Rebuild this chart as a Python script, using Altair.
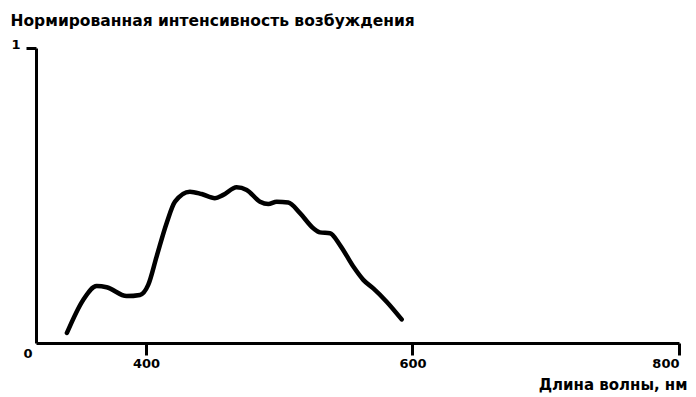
import altair as alt
import pandas as pd

# Data
wavelength = [340.7, 352.9, 363.0, 370.5, 385.5, 395.5, 401.7, 408.0, 415.5, 421.8,
              433.0, 441.8, 451.8, 458.0, 468.0, 475.6, 485.6, 491.8, 498.1, 506.8,
              515.6, 525.6, 530.6, 538.1, 545.6, 555.6, 563.1, 570.6, 580.6, 591.9]
intensity = [0.034, 0.146, 0.193, 0.189, 0.159, 0.163, 0.197, 0.293, 0.406, 0.479,
             0.513, 0.505, 0.491, 0.502, 0.528, 0.519, 0.479, 0.471, 0.479, 0.476,
             0.440, 0.389, 0.375, 0.372, 0.332, 0.259, 0.214, 0.185, 0.140, 0.080]
x_ticks = [400, 600, 800]
y_ticks = [1]
x_min = 317.5
x_max = 800
y_title = "Нормированная интенсивность возбуждения"
x_title = "Длина волны, нм"
origin_label = "0"

FONT = "DejaVu Sans"

df = pd.DataFrame({"wl": wavelength, "val": intensity})
origin_df = pd.DataFrame({"wl": [x_min], "val": [0], "t": [origin_label]})

x_scale = alt.Scale(domain=[x_min, x_max], nice=False, zero=False)
y_scale = alt.Scale(domain=[0, 1], nice=False)

line = alt.Chart(df).mark_line(
    color="black", strokeWidth=4.5, strokeCap="round", strokeJoin="round",
    interpolate="monotone"
).encode(
    x=alt.X("wl:Q", scale=x_scale, axis=alt.Axis(
        values=x_ticks, title=x_title, grid=False, format="d",
        domainColor="black", domainWidth=3,
        tickColor="black", tickWidth=3, tickSize=12,
        labelFont=FONT, labelFontSize=13, labelFontWeight="bold", labelColor="black",
        labelPadding=2,
        titleFont=FONT, titleFontSize=15, titleFontWeight="bold", titleColor="black",
        titleAnchor="end", titleAlign="right", titleBaseline="alphabetic",
        titleX=651, titleY=46,
    )),
    y=alt.Y("val:Q", scale=y_scale, axis=alt.Axis(
        values=y_ticks, title=y_title, grid=False, format="d",
        domainColor="black", domainWidth=3,
        tickColor="black", tickWidth=3, tickSize=10,
        labelFont=FONT, labelFontSize=13, labelFontWeight="bold", labelColor="black",
        labelPadding=6, labelBaseline="alphabetic",
        titleFont=FONT, titleFontSize=15.5, titleFontWeight="bold", titleColor="black",
        titleAngle=0, titleAlign="left", titleBaseline="alphabetic",
        titleX=-26, titleY=-23,
    )),
)

origin = alt.Chart(origin_df).mark_text(
    font=FONT, fontSize=13, fontWeight="bold", color="black",
    dx=-8, dy=11, align="center", baseline="middle"
).encode(
    x=alt.X("wl:Q", scale=x_scale),
    y=alt.Y("val:Q", scale=y_scale),
    text="t:N",
)

chart = alt.layer(line, origin).properties(
    width=643, height=295,
    autosize=alt.AutoSizeParams(type="none"),
    padding={"left": 28, "top": 40, "right": 9, "bottom": 52},
    background="white",
).configure_view(stroke=None)

chart.save("out.html", embed_options={"renderer": "svg", "actions": False})
